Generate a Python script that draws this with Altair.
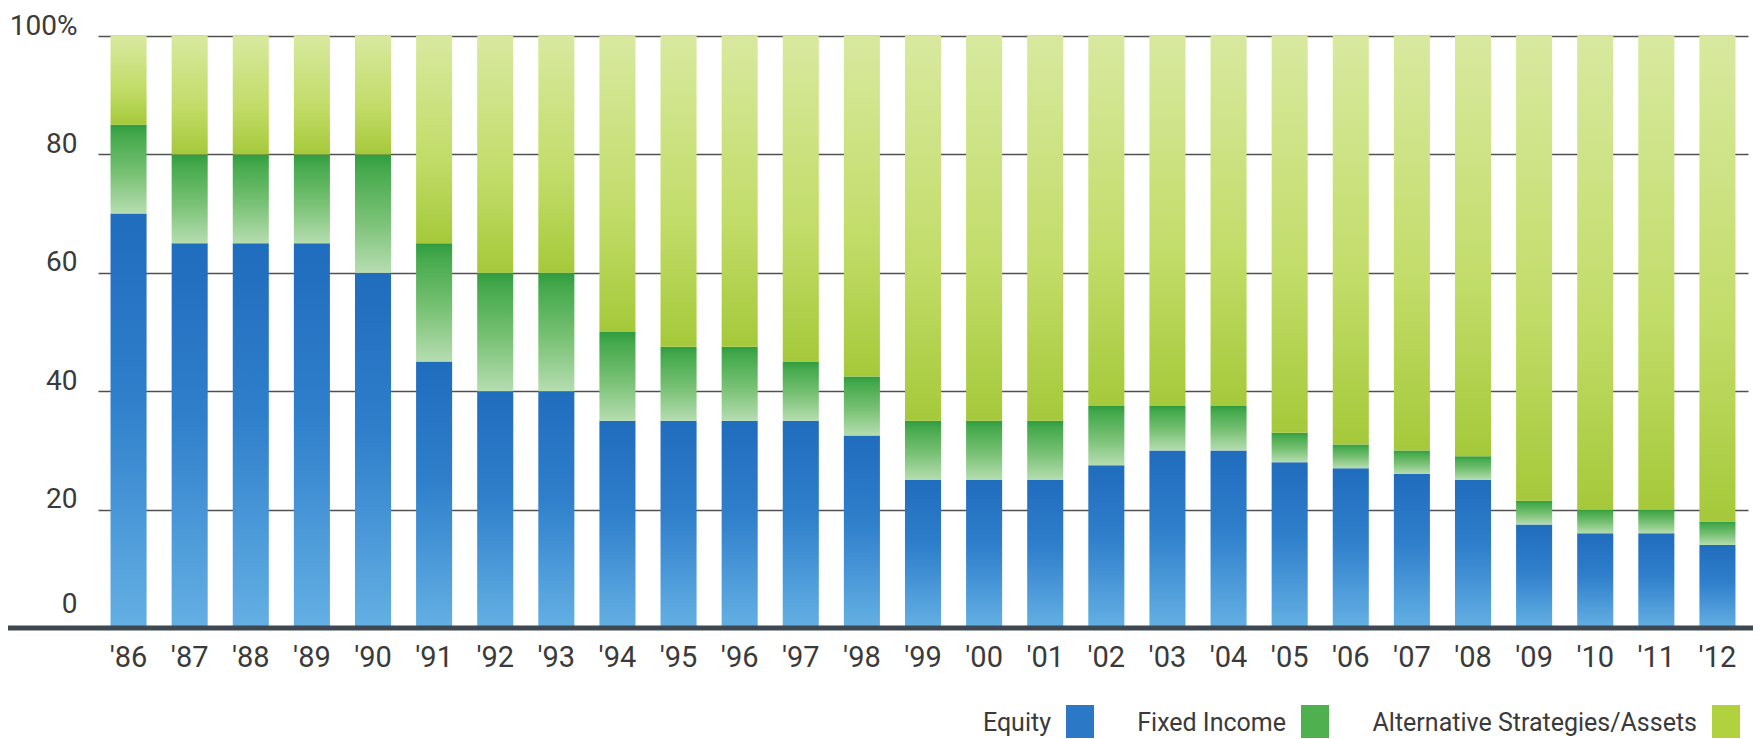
import altair as alt
import pandas as pd

years = ["'86", "'87", "'88", "'89", "'90", "'91", "'92", "'93", "'94", "'95", "'96", "'97", "'98",
         "'99", "'00", "'01", "'02", "'03", "'04", "'05", "'06", "'07", "'08", "'09", "'10", "'11", "'12"]
equity = [70, 65, 65, 65, 60, 45, 40, 40, 35, 35, 35, 35, 32.5,
          25, 25, 25, 27.5, 30, 30, 28, 27, 26, 25, 17.5, 16, 16, 14]
fixed_income = [15, 15, 15, 15, 20, 20, 20, 20, 15, 12.5, 12.5, 10, 10,
                10, 10, 10, 10, 7.5, 7.5, 5, 4, 4, 4, 4, 4, 4, 4]
alternatives = [15, 20, 20, 20, 20, 35, 40, 40, 50, 52.5, 52.5, 55, 57.5,
                65, 65, 65, 62.5, 62.5, 62.5, 67, 69, 70, 71, 78.5, 80, 80, 82]
categories = ["Equity", "Fixed Income", "Alternative Strategies/Assets"]
legend_colors = ["#2b78c6", "#4fb04f", "#b2d13f"]
y_ticks = [0, 20, 40, 60, 80, 100]

rows = []
for i, yr in enumerate(years):
    for k, (cat, val) in enumerate(zip(categories, (equity[i], fixed_income[i], alternatives[i]))):
        rows.append({"year": yr, "category": cat, "value": val, "order": k})
df = pd.DataFrame(rows)

FONT = "Roboto, sans-serif"
TXT = "#3a3a3a"


def grad(stops):
    return alt.Gradient(
        gradient="linear", x1=0, x2=0, y1=0, y2=1,
        stops=[alt.GradientStop(color=c, offset=o) for o, c in stops],
    )


grad_eq = grad([(0, "#206cbd"), (0.45, "#2f7fcb"), (1, "#64b0e4")])
grad_fi = grad([(0, "#2f9c40"), (0.12, "#45a94c"), (0.55, "#78c174"), (1, "#b6ddb0")])
grad_alt = grad([(0, "#d8e99f"), (0.6, "#c2dc68"), (1, "#a5c93a")])

x_enc = alt.X(
    "year:N", sort=years, title=None,
    scale=alt.Scale(paddingInner=0.41, paddingOuter=0.205),
    axis=alt.Axis(domain=False, ticks=False, labelAngle=0, labelFont=FONT, labelFontSize=29,
                  labelColor=TXT, labelPadding=15, grid=False),
)
y_axis = alt.Axis(
    values=y_ticks, domain=False, ticks=False, grid=True, gridColor="#505050", gridWidth=1.4,
    labelFont=FONT, labelFontSize=28, labelColor=TXT, labelPadding=21,
    labelBaseline="alphabetic",
    labelOffset={"condition": {"test": "datum.value === 0", "value": -16}, "value": -2},
    labelExpr="datum.value == 100 ? '100%' : datum.label",
)
y_scale = alt.Scale(domain=[0, 100], nice=False)

base = alt.Chart(df).transform_stack(
    stack="value", groupby=["year"], as_=["v0", "v1"],
    sort=[alt.SortField("order", order="ascending")],
)


def layer_for(cat, g):
    return base.transform_filter(alt.datum.category == cat).mark_bar(fill=g, strokeWidth=0).encode(
        x=x_enc,
        y=alt.Y("v1:Q", scale=y_scale, axis=y_axis, title=None),
        y2="v0:Q",
    )


eq_layer = layer_for("Equity", grad_eq)
fi_layer = layer_for("Fixed Income", grad_fi)
alt_layer = layer_for("Alternative Strategies/Assets", grad_alt)

legend_layer = base.mark_square(opacity=0).encode(
    x=x_enc,
    y=alt.Y("v1:Q", scale=y_scale, axis=y_axis, title=None),
    color=alt.Color(
        "category:N",
        scale=alt.Scale(domain=categories, range=legend_colors),
        legend=alt.Legend(
            title=None, orient="none", legendX=964, legendY=669, direction="horizontal",
            labelAlign="right", labelOffset={"expr": "-47"}, columnPadding=42, padding=0,
            labelFont=FONT, labelFontSize=25, labelColor=TXT, labelLimit=600,
            symbolType="M-0.78,-1H0.78V1H-0.78Z", symbolSize=1296, symbolOpacity=1,
            symbolStrokeWidth=0,
        ),
    ),
)

rule_layer = alt.Chart(pd.DataFrame({"y": [0]})).mark_rule(color="#3e4852", strokeWidth=5).encode(
    y=alt.Y("y:Q", scale=y_scale, axis=y_axis, title=None),
    x=alt.value(-91),
    x2=alt.value(1655),
)

chart = alt.layer(eq_layer, fi_layer, alt_layer, legend_layer, rule_layer).properties(
    width=1650, height=592,
    padding={"left": 90, "top": 28, "right": 5, "bottom": 110},
    autosize=alt.AutoSizeParams(type="none"),
).configure_view(stroke=None)

chart.save("out.html", embed_options={"renderer": "svg", "actions": False})
